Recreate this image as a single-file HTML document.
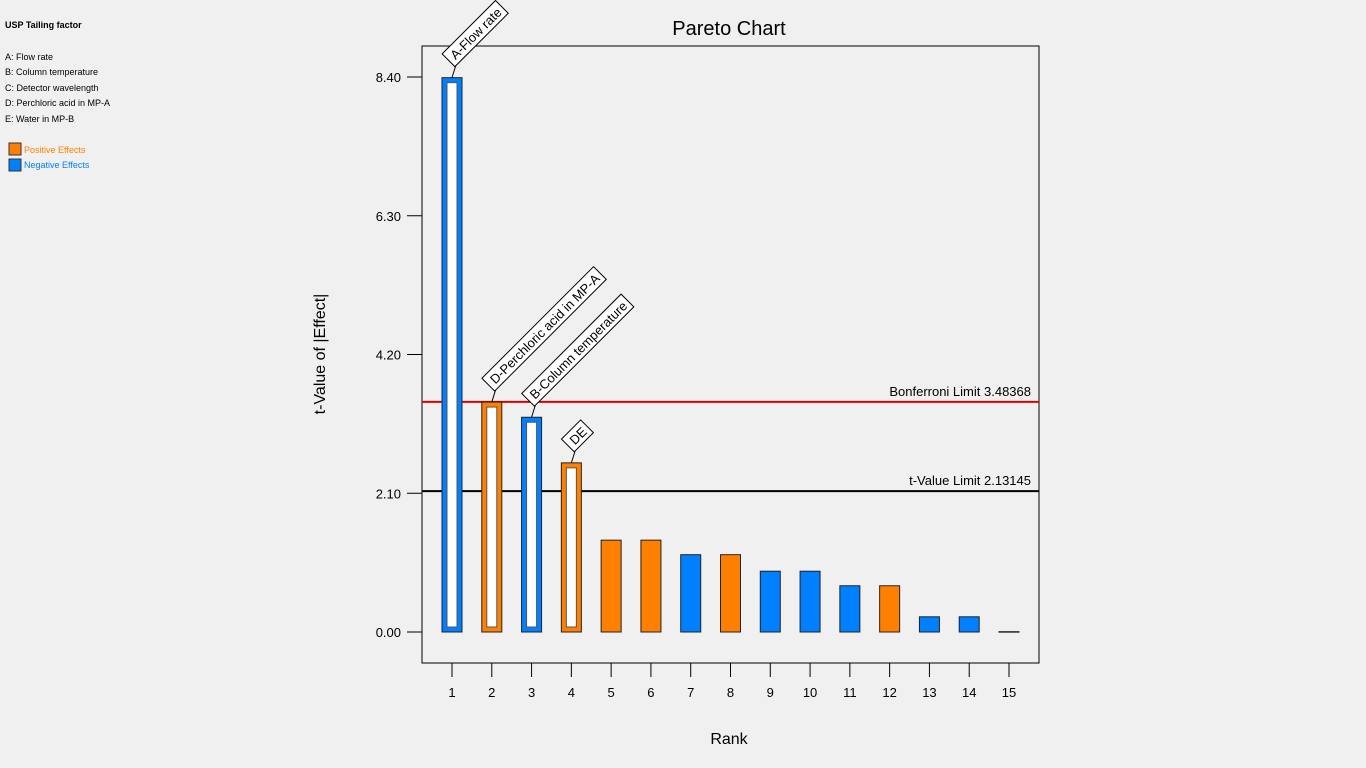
<!DOCTYPE html>
<html><head><meta charset="utf-8"><style>
body{margin:0;background:#f0f0f0;width:1366px;height:768px;overflow:hidden;font-family:"Liberation Sans","DejaVu Sans",sans-serif}
</style></head><body>
<svg id="c" width="1366" height="768" style="position:absolute;left:0;top:0">
<g font-size="9" fill="#000">
<text x="5" y="28" font-weight="bold">USP Tailing factor</text>
<text x="5" y="60">A: Flow rate</text>
<text x="5" y="75">B: Column temperature</text>
<text x="5" y="91">C: Detector wavelength</text>
<text x="5" y="106">D: Perchloric acid in MP-A</text>
<text x="5" y="122">E: Water in MP-B</text>
<rect x="9" y="143" width="12" height="12" fill="#ff8000" stroke="#333"/>
<text x="24" y="153" fill="#ff8000">Positive Effects</text>
<rect x="9" y="159" width="12" height="12" fill="#0080ff" stroke="#333"/>
<text x="24" y="168" fill="#0080ff">Negative Effects</text>
</g>
<text x="729" y="35" font-size="20" text-anchor="middle">Pareto Chart</text>
<rect x="422" y="46" width="617" height="617" fill="none" stroke="#000"/>
<text x="729" y="744" font-size="16" text-anchor="middle">Rank</text>
<text transform="translate(325,354) rotate(-90)" font-size="16" text-anchor="middle">t-Value of |Effect|</text>
<g id="g"></g>
</svg>
<script>
const ranks=[1,2,3,4,5,6,7,8,9,10,11,12,13,14,15];
const values=[8.39,3.48,3.25,2.56,1.39,1.39,1.17,1.17,0.92,0.92,0.70,0.70,0.23,0.23,0.005];
const signs=[-1,1,-1,1,1,1,-1,1,-1,-1,-1,1,-1,-1,-1];
const labels=["A-Flow rate","D-Perchloric acid in MP-A","B-Column temperature","DE"];
const yTicks=[0,2.1,4.2,6.3,8.4];
const yTickLabels=["0.00","2.10","4.20","6.30","8.40"];
const bonferroni=3.48368, tLimit=2.13145;
const NS="http://www.w3.org/2000/svg";
const g=document.getElementById('g');
const y=v=>632-v*(555/8.4);
const x=r=>452+(r-1)*(557/14);
function mk(t,a,p){const e=document.createElementNS(NS,t);for(const k in a)e.setAttribute(k,a[k]);(p||g).appendChild(e);return e;}
yTicks.forEach((v,i)=>{
  const l=mk('line',{x1:407,x2:422,y1:y(v),y2:y(v),stroke:'#000'});
  
  
  const t=mk('text',{x:401,y:y(v)+5,'font-size':13,'text-anchor':'end'});t.textContent=yTickLabels[i];
  
  
});
ranks.forEach((r,i)=>{
  const l=mk('line',{x1:x(r),x2:x(r),y1:663,y2:677,stroke:'#000'});
  
  
  const t=mk('text',{x:x(r),y:697,'font-size':13,'text-anchor':'middle'});t.textContent=r;
  
  
});
function hline(v,col,txt,name){
  const l=mk('line',{x1:422,x2:1039,y1:y(v),y2:y(v),stroke:col,'stroke-width':2});
  
  
  const t=mk('text',{x:1031,y:y(v)-6,'font-size':13,'text-anchor':'end'});t.textContent=txt;
  
  
}
hline(bonferroni,'#e00000','Bonferroni Limit '+bonferroni,'bonferroni-limit');
hline(tLimit,'#000','t-Value Limit '+tLimit,'t-value-limit');
ranks.forEach((r,i)=>{
  const v=values[i],col=signs[i]>0?'#ff8000':'#0080ff';
  const b=mk('rect',{x:x(r)-10,y:y(v),width:20,height:Math.max(0.5,632-y(v)),fill:col,stroke:'#222','stroke-width':1});
  
  
  if(v>tLimit){
    mk('rect',{x:x(r)-5,y:y(v)+5,width:10,height:632-y(v)-10,fill:'#fff',stroke:'#555','stroke-width':1});
    const lbl=labels[i];
    const ax=x(r)+5,ay=y(v)-16;
    mk('line',{x1:x(r),y1:y(v),x2:ax,y2:ay,stroke:'#000'});
    const gg=mk('g',{transform:`translate(${ax},${ay}) rotate(-45)`});
    
    
    const rc=mk('rect',{x:-5,y:-16,width:10,height:18,fill:'#fff',stroke:'#000'},gg);
    const t=mk('text',{x:0,y:-2,'font-size':13},gg);t.textContent=lbl;
    let w=lbl.length*6.5;
    try{w=t.getComputedTextLength();}catch(e){}
    rc.setAttribute('width',w+9);
  }
});
</script>
</body></html>
